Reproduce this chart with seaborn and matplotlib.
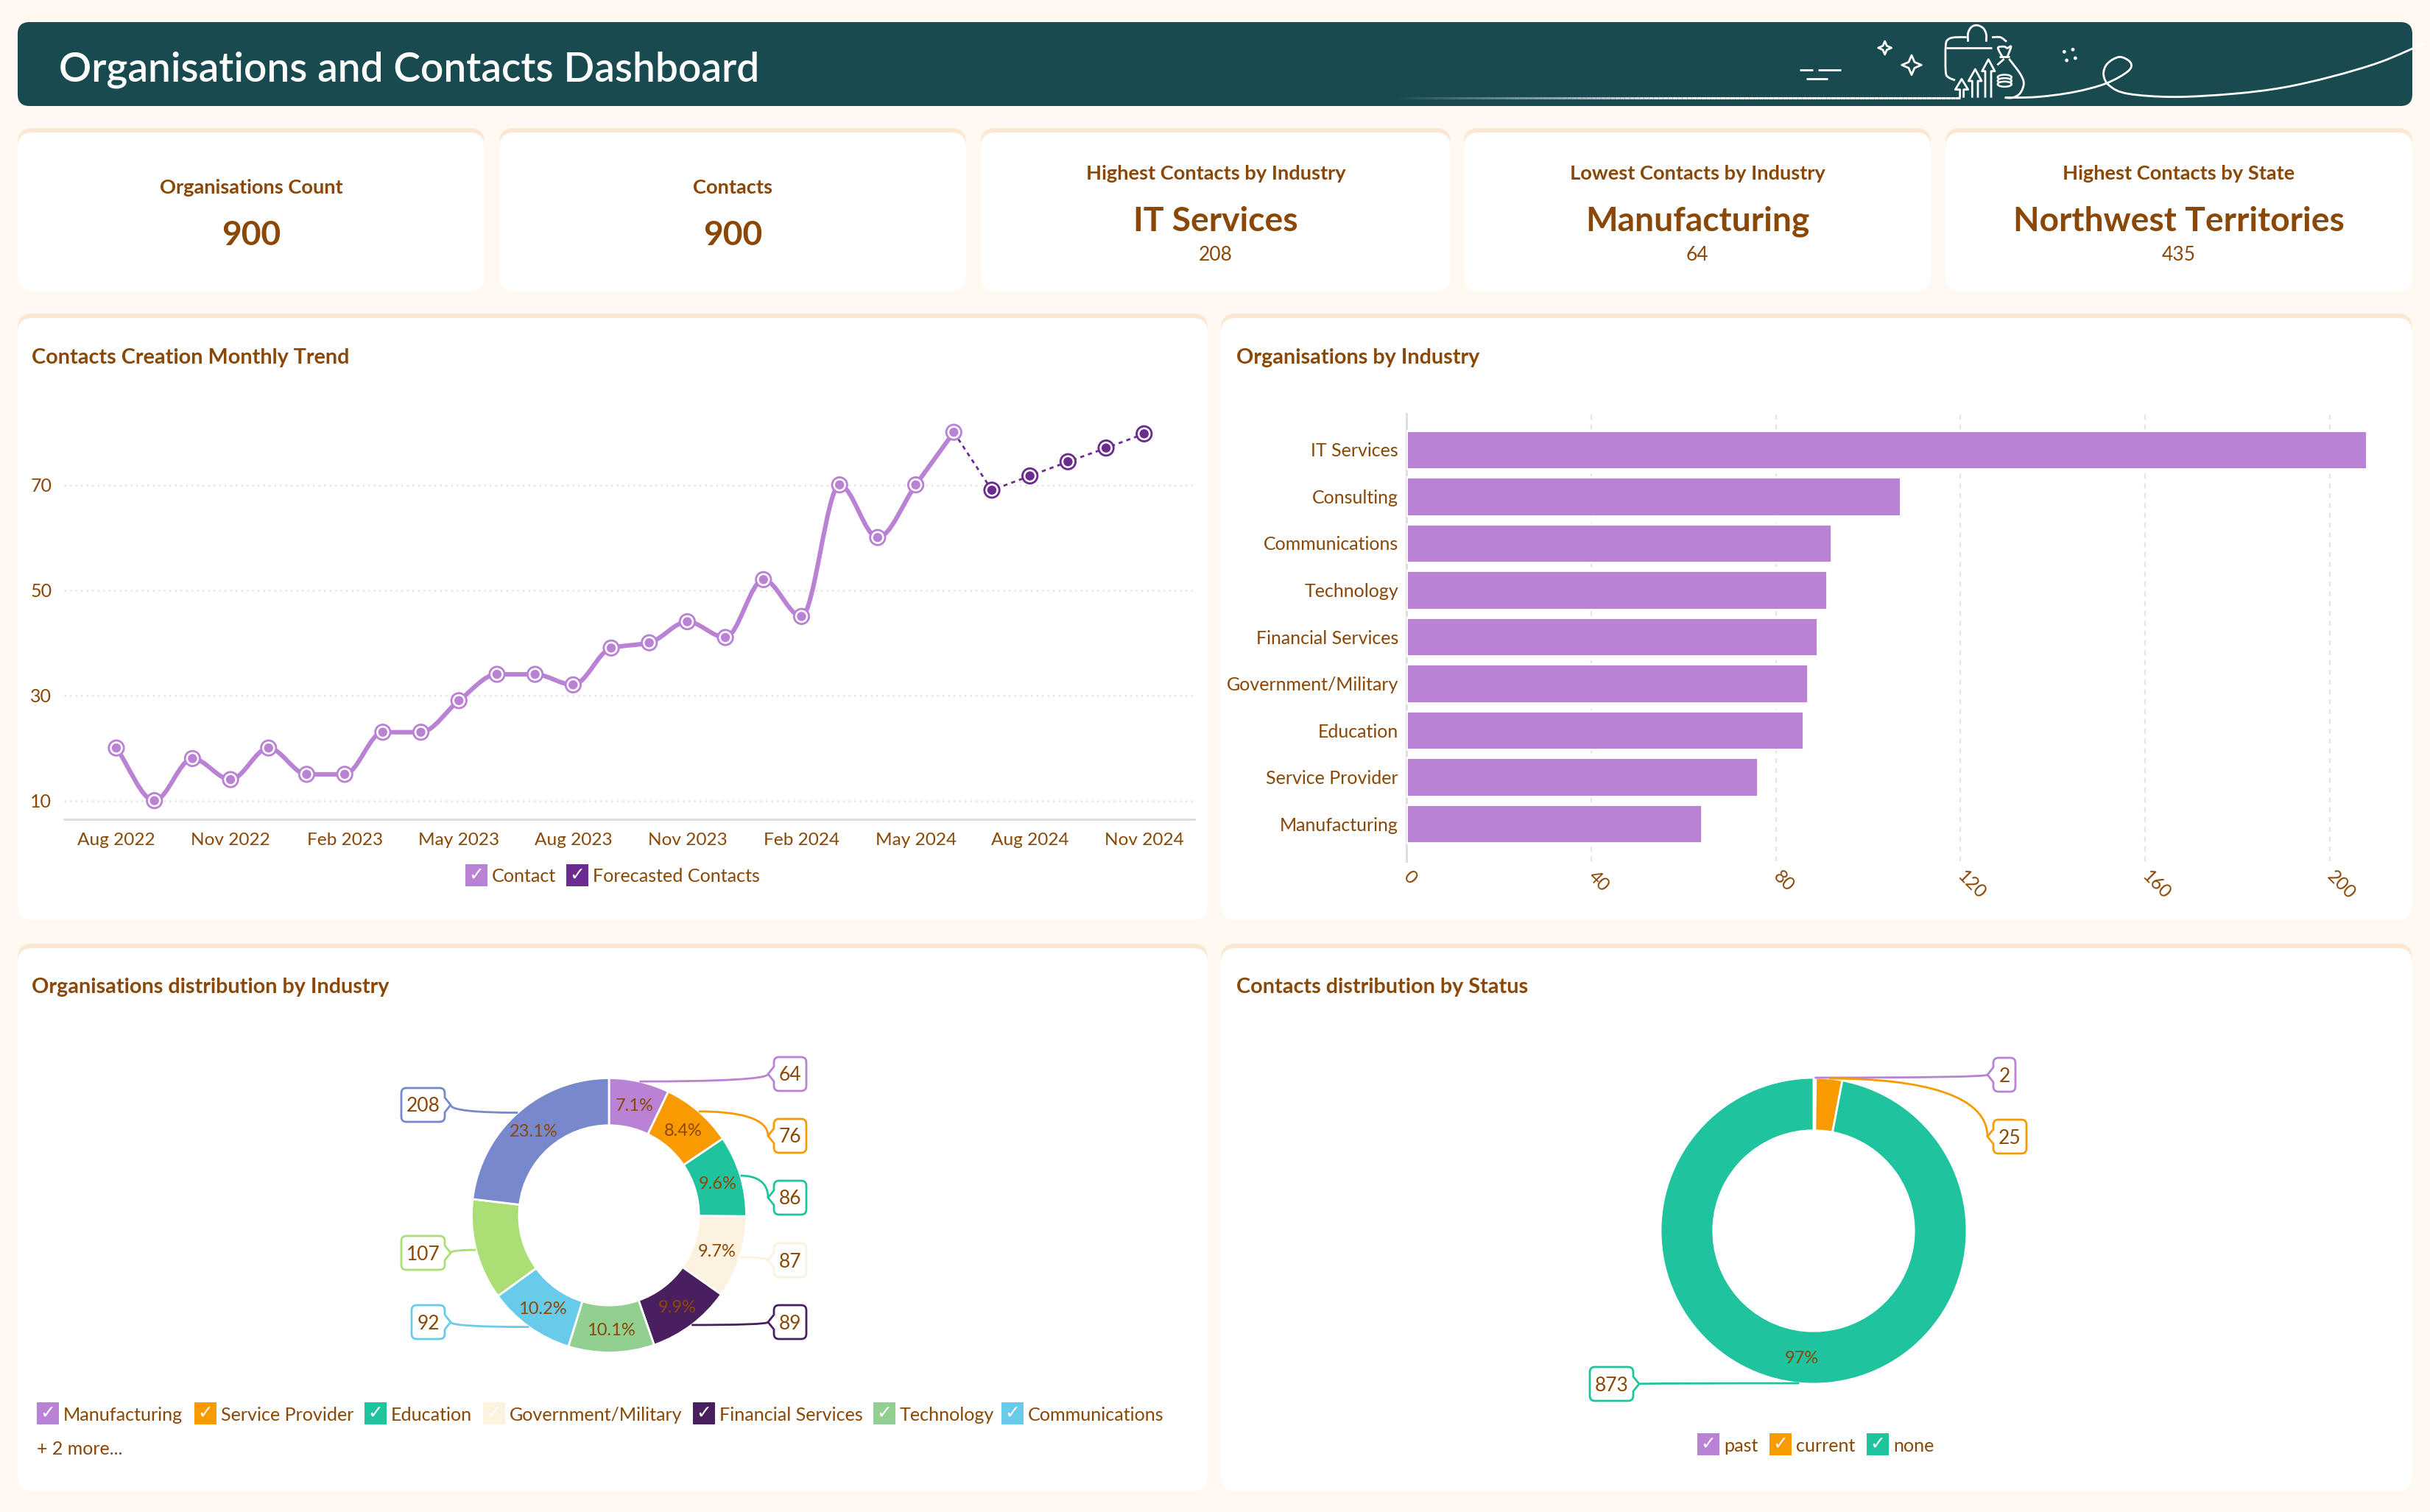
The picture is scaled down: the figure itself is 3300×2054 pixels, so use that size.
"""Organisations and Contacts dashboard, rebuilt with seaborn and matplotlib."""
import numpy as np
import pandas as pd
import matplotlib
matplotlib.use("Agg")
import matplotlib.pyplot as plt
import seaborn as sns
from matplotlib.collections import LineCollection
from matplotlib.patches import FancyBboxPatch, PathPatch, Polygon, Ellipse, Circle, Rectangle
from matplotlib.path import Path

# Data
months = ["Aug 2022", "Sep 2022", "Oct 2022", "Nov 2022", "Dec 2022", "Jan 2023", "Feb 2023",
          "Mar 2023", "Apr 2023", "May 2023", "Jun 2023", "Jul 2023", "Aug 2023", "Sep 2023",
          "Oct 2023", "Nov 2023", "Dec 2023", "Jan 2024", "Feb 2024", "Mar 2024", "Apr 2024",
          "May 2024", "Jun 2024", "Jul 2024", "Aug 2024", "Sep 2024", "Oct 2024", "Nov 2024"]
contacts = [20, 10, 18, 14, 20, 15, 15, 23, 23, 29, 34, 34, 32, 39, 40, 44, 41, 52, 45, 70, 60, 70, 80]
forecast = [69, 71.7, 74.4, 77, 79.7]
trend_ticks = [10, 30, 50, 70]

bar_labels = ["IT Services", "Consulting", "Communications", "Technology", "Financial Services",
              "Government/Military", "Education", "Service Provider", "Manufacturing"]
bar_values = [208, 107, 92, 91, 89, 87, 86, 76, 64]
bar_ticks = [0, 40, 80, 120, 160, 200]

donut_labels = ["Manufacturing", "Service Provider", "Education", "Government/Military",
                "Financial Services", "Technology", "Communications", "Consulting", "IT Services"]
donut_values = [64, 76, 86, 87, 89, 91, 92, 107, 208]
donut_pct = ["7.1%", "8.4%", "9.6%", "9.7%", "9.9%", "10.1%", "10.2%", "", "23.1%"]
status_labels = ["past", "current", "none"]
status_values = [2, 25, 873]
status_pct = ["", "", "97%"]

kpi_simple = [("Organisations Count", "900"), ("Contacts", "900")]
kpi_detail = [("Highest Contacts by Industry", "IT Services", "208"),
              ("Lowest Contacts by Industry", "Manufacturing", "64"),
              ("Highest Contacts by State", "Northwest Territories", "435")]

# Colours
PAGE = "#FFF9F2"
HEADER = "#184A50"
ACCENT = "#FBE7D2"
BROWN = "#8A4706"
PURPLE = "#BA82D4"
DARK_PURPLE = "#6A2C91"
GRID = "#E5E5E9"
DONUT_COLORS = ["#BA82D4", "#F99B00", "#1FC39E", "#FDF1DF", "#4A1F5F",
                "#92D092", "#68CBEA", "#ABDF75", "#7888CC"]
STATUS_COLORS = ["#BA82D4", "#F99B00", "#1FC39E"]

# Layout, all in figure pixels
WIDTH, HEIGHT, DPI = 3300, 2054, 200
KPI_X = [(24, 658), (678, 1312), (1332, 1970), (1988, 2622), (2642, 3276)]
PANELS = [(24, 426, 1640, 1250), (1658, 426, 3276, 1250),
          (24, 1282, 1640, 2026), (1658, 1282, 3276, 2026)]
DONUT_SPOTS = [(1051, 1095, 1459), (1051, 1095, 1543), (1051, 1095, 1627), (1051, 1095, 1712),
               (1051, 1095, 1796), None, (559, 604, 1796), (545, 604, 1702), (545, 604, 1501)]
STATUS_SPOTS = [(2707, 2737, 1460), (2707, 2752, 1544), (2159, 2218, 1880)]

sns.set_theme(style="white")
plt.rcParams["font.family"] = ["Lato", "DejaVu Sans"]
plt.rcParams["axes.unicode_minus"] = False

fig = plt.figure(figsize=(WIDTH / DPI, HEIGHT / DPI), dpi=DPI, facecolor=PAGE)


def px_axes(x0, y0, x1, y1, zorder=1):
    """Axes placed by pixel box, y counted from the top of the figure."""
    ax = fig.add_axes([x0 / WIDTH, 1 - y1 / HEIGHT, (x1 - x0) / WIDTH, (y1 - y0) / HEIGHT], zorder=zorder)
    ax.patch.set_alpha(0)
    return ax


def overlay(zorder):
    ax = px_axes(0, 0, WIDTH, HEIGHT, zorder)
    ax.set_xlim(0, WIDTH)
    ax.set_ylim(HEIGHT, 0)
    ax.axis("off")
    return ax


back = overlay(0)
top = overlay(10)


def card(x0, y0, x1, y1, radius=20):
    for off, color in [(0, ACCENT), (6, "white")]:
        back.add_patch(FancyBboxPatch((x0, y0 + off), x1 - x0, y1 - y0 - off, ec="none", fc=color,
                                      boxstyle=f"round,pad=0,rounding_size={radius}"))


def spline_2d(points):
    """Catmull-Rom through the given points, as a bezier path."""
    pts = np.asarray(points, dtype=float)
    verts, codes = [pts[0]], [Path.MOVETO]
    for i in range(len(pts) - 1):
        p0 = pts[max(i - 1, 0)]
        p3 = pts[min(i + 2, len(pts) - 1)]
        verts += [pts[i] + (pts[i + 1] - p0) / 6, pts[i + 1] - (p3 - pts[i]) / 6, pts[i + 1]]
        codes += [Path.CURVE4] * 3
    return Path(verts, codes)


def monotone_path(x, y):
    """Monotone bezier through the data points, the way the dashboard smooths its line."""
    x, y = np.asarray(x, dtype=float), np.asarray(y, dtype=float)
    slope = np.diff(y) / np.diff(x)
    tangent = np.zeros_like(y)
    for i in range(1, len(y) - 1):
        if slope[i - 1] * slope[i] > 0:
            tangent[i] = 2 * slope[i - 1] * slope[i] / (slope[i - 1] + slope[i])
    tangent[0], tangent[-1] = slope[0], slope[-1]
    verts, codes = [(x[0], y[0])], [Path.MOVETO]
    for i in range(len(y) - 1):
        dx = (x[i + 1] - x[i]) / 3
        verts += [(x[i] + dx, y[i] + tangent[i] * dx), (x[i + 1] - dx, y[i + 1] - tangent[i + 1] * dx),
                  (x[i + 1], y[i + 1])]
        codes += [Path.CURVE4] * 3
    return Path(verts, codes)


def draw_header():
    back.add_patch(FancyBboxPatch((24, 30), 3252, 114, ec="none", fc=HEADER,
                                  boxstyle="round,pad=0,rounding_size=16"))
    back.text(80, 95, "Organisations and Contacts Dashboard", color="white", fontsize=19.8,
              fontweight="semibold", va="center", ha="left")

    def art(points, closed=False, lw=1.0):
        pts = np.asarray(points, dtype=float) / 3 + (2400, 20)
        back.add_patch(Polygon(pts, closed=closed, fc="none", ec="white", lw=lw, joinstyle="round"))

    # fading base line
    xs = np.linspace(1887, 2662, 120)
    segs = [[(a, 133), (b, 133)] for a, b in zip(xs[:-1], xs[1:])]
    alphas = np.clip((xs[:-1] - 1887) / 420, 0, 1)
    back.add_collection(LineCollection(segs, colors=[(1, 1, 1, a) for a in alphas], linewidths=1.1))

    art([(785, 338), (785, 305), (766, 305), (792, 262), (818, 305), (800, 305), (800, 338)])
    art([(835, 338), (835, 270), (820, 270), (847, 222), (873, 270), (858, 270), (858, 338)])
    art([(888, 338), (888, 230), (875, 230), (901, 182), (927, 230), (912, 230), (912, 338)])
    for a, b in [((132, 226), (185, 226)), ((208, 226), (300, 226)), ((160, 260), (245, 260)),
                 ((730, 135), (915, 135)), ((945, 172), (988, 172))]:
        art([a, b])
    for cx, cy, r in [(479, 135, 27), (588, 205, 40)]:
        art([(cx, cy - r), (cx + r * .3, cy - r * .3), (cx + r, cy), (cx + r * .3, cy + r * .3),
             (cx, cy + r), (cx - r * .3, cy + r * .3), (cx - r, cy), (cx - r * .3, cy - r * .3)], closed=True)
    for cx, cy in [(1210, 151), (1245, 142), (1255, 177), (1220, 186)]:
        back.add_patch(Circle((2400 + cx / 3, 20 + cy / 3), 2.4, fc="white", ec="none"))

    to_px = lambda pts: [(2400 + a / 3, 20 + b / 3) for a, b in pts]
    curves = [
        [(765, 267), (738, 255), (727, 232), (727, 125), (738, 100), (765, 92), (812, 92)],
        [(818, 110), (818, 75), (832, 50), (855, 43), (880, 55), (892, 80), (892, 110)],
        [(915, 92), (950, 92), (975, 110)],
        [(937, 205), (965, 180)],
        [(985, 180), (1030, 240), (1045, 280), (1030, 320), (1000, 338), (968, 338)],
        [(958, 172), (940, 135), (965, 130), (978, 136), (993, 130), (978, 172)],
        [(968, 338), (1100, 335), (1250, 315), (1380, 280), (1470, 230), (1480, 195), (1435, 172),
         (1385, 200), (1370, 245), (1395, 290), (1470, 322), (1660, 335), (1900, 322), (2100, 297),
         (2300, 252), (2500, 192), (2680, 115)],
    ]
    for curve in curves:
        back.add_patch(PathPatch(spline_2d(to_px(curve)), fc="none", ec="white", lw=1.0))
    for dy in [0, 14, 28]:
        back.add_patch(Ellipse((2400 + 967 / 3, 20 + (255 + dy) / 3), 19, 7, fc=HEADER, ec="white", lw=0.9))


def draw_kpis():
    for (x0, x1) in KPI_X:
        card(x0, 174, x1, 396)
    for (x0, x1), (label, value) in zip(KPI_X[:2], kpi_simple):
        mid = (x0 + x1) / 2
        back.text(mid, 255, label, color=BROWN, fontsize=9.8, fontweight="bold", ha="center", va="center")
        back.text(mid, 320, value, color=BROWN, fontsize=16.6, fontweight="bold", ha="center", va="center")
    for (x0, x1), (label, value, sub) in zip(KPI_X[2:], kpi_detail):
        mid = (x0 + x1) / 2
        back.text(mid, 236, label, color=BROWN, fontsize=9.8, fontweight="bold", ha="center", va="center")
        back.text(mid, 301, value, color=BROWN, fontsize=16.6, fontweight="bold", ha="center", va="center")
        back.text(mid, 347, sub, color=BROWN, fontsize=9.5, ha="center", va="center")


def legend_item(x, y, color, label, size=30):
    back.add_patch(Rectangle((x, y), size, size, fc=color, ec="none"))
    back.text(x + size / 2, y + size / 2, "\u2713", color="white", fontsize=9, ha="center", va="center",
              family="DejaVu Sans")
    back.text(x + size + 6, y + size / 2 + 2, label, color=BROWN, fontsize=9.05, ha="left", va="center")


def draw_trend():
    ax = px_axes(87, 540, 1622, 1113)
    hist = pd.DataFrame({"idx": np.arange(len(contacts)), "value": contacts})
    fut = pd.DataFrame({"idx": np.arange(len(contacts), len(months)), "value": forecast})
    link = pd.concat([hist.tail(1), fut])

    sns.lineplot(data=link, x="idx", y="value", ax=ax, color=DARK_PURPLE, lw=1.0,
                 linestyle=(0, (2, 2)), errorbar=None, sort=False)
    ax.add_patch(PathPatch(monotone_path(hist["idx"], hist["value"]), fc="none", ec=PURPLE, lw=2.2,
                           capstyle="round", joinstyle="round", zorder=3))
    for frame, color in [(hist, PURPLE), (fut, DARK_PURPLE)]:
        for size, fill in [(70, color), (40, "white"), (20, color)]:
            sns.scatterplot(data=frame, x="idx", y="value", ax=ax, s=size, color=fill, edgecolor="none",
                            linewidth=0, zorder=4, clip_on=False)

    ax.set_xlim(-1.373, 28.32)
    ax.set_ylim(6.45, 86.6)
    ax.set_xticks(np.arange(0, len(months), 3), months[::3])
    ax.set_yticks(trend_ticks)
    ax.set_xlabel("")
    ax.set_ylabel("")
    ax.grid(axis="y", color=GRID, lw=0.9, linestyle=(0, (1, 2)))
    ax.set_axisbelow(True)
    sns.despine(ax=ax, left=True)
    ax.spines["bottom"].set_color("#DCDDE3")
    ax.spines["bottom"].set_linewidth(1.0)
    ax.tick_params(axis="x", length=0, pad=6.5, labelsize=8.8, labelcolor=BROWN)
    ax.tick_params(axis="y", length=0, pad=6, labelsize=9, labelcolor=BROWN)


def draw_bars():
    ax = px_axes(1910, 562, 3261, 1170)
    frame = pd.DataFrame({"industry": bar_labels, "organisations": bar_values})
    sns.barplot(data=frame, x="organisations", y="industry", ax=ax, color=PURPLE, saturation=1,
                width=0.827, orient="h", zorder=3)
    ax.set_xlim(0, (3261 - 1910) / 6.27)
    ax.set_ylim(8.8, -0.77)
    ax.set_xticks(bar_ticks)
    ax.set_xlabel("")
    ax.set_ylabel("")
    ax.grid(axis="x", color=GRID, lw=0.8, linestyle=(0, (3, 3)))
    ax.set_axisbelow(True)
    sns.despine(ax=ax, bottom=True)
    ax.spines["left"].set_color("#DCDDE3")
    ax.spines["left"].set_linewidth(1.0)
    ax.tick_params(axis="y", length=0, pad=4, labelsize=9, labelcolor=BROWN)
    ax.tick_params(axis="x", length=0, pad=6, labelsize=9, labelcolor=BROWN)
    for tick in ax.get_xticklabels():
        tick.set_rotation(-45)
        tick.set_rotation_mode("anchor")
        tick.set_ha("left")
        tick.set_va("center")


def callout(x0, x1, ymid, text, color, anchor, half_h=23):
    y0, y1 = ymid - half_h, ymid + half_h
    tip_right = anchor[0] > x1
    tip_x = x1 + 8 if tip_right else x0 - 8
    r, tw = 7, 10
    verts = [(x0 + r, y0), (x1 - r, y0), (x1, y0), (x1, y0 + r)]
    codes = [Path.MOVETO, Path.LINETO, Path.CURVE3, Path.CURVE3]
    if tip_right:
        verts += [(x1, ymid - tw), (tip_x, ymid), (x1, ymid + tw)]
        codes += [Path.LINETO] * 3
    verts += [(x1, y1 - r), (x1, y1), (x1 - r, y1), (x0 + r, y1), (x0, y1), (x0, y1 - r)]
    codes += [Path.LINETO, Path.CURVE3, Path.CURVE3, Path.LINETO, Path.CURVE3, Path.CURVE3]
    if not tip_right:
        verts += [(x0, ymid + tw), (tip_x, ymid), (x0, ymid - tw)]
        codes += [Path.LINETO] * 3
    verts += [(x0, y0 + r), (x0, y0), (x0 + r, y0), (x0 + r, y0)]
    codes += [Path.LINETO, Path.CURVE3, Path.CURVE3, Path.CLOSEPOLY]
    top.add_patch(PathPatch(Path(verts, codes), fc="white", ec=color, lw=1.0))

    sx, sy = anchor
    dx, dy = tip_x - sx, ymid - sy
    lead = Path([(sx, sy), (sx + 0.6 * dx, sy), (tip_x, sy + 0.3 * dy), (tip_x, ymid)],
                [Path.MOVETO, Path.CURVE4, Path.CURVE4, Path.CURVE4])
    top.add_patch(PathPatch(lead, fc="none", ec=color, lw=1.0))
    top.text((x0 + x1) / 2, ymid + 2, text, color=BROWN, fontsize=9.5, ha="center", va="center")


def draw_donut(values, pct, colors, spots, cx, cy, radius, inner):
    ax = px_axes(cx - radius, cy - radius, cx + radius, cy + radius)
    ax.pie(values, colors=colors, startangle=90, counterclock=False, radius=1,
           wedgeprops=dict(width=1 - inner, edgecolor="white", linewidth=1.0))
    ax.set_xlim(-1, 1)
    ax.set_ylim(-1, 1)
    for patch in ax.patches:
        patch.set_clip_on(False)
    total = sum(values)
    start = 0
    for value, label, color, spot in zip(values, pct, colors, spots):
        mid = np.deg2rad((start + value / 2) / total * 360)
        start += value
        if label:
            r_mid = radius * (1 + inner) / 2
            top.text(cx + r_mid * np.sin(mid), cy - r_mid * np.cos(mid) + 2, label, color=BROWN, fontsize=8.5,
                     ha="center", va="center")
        if spot:
            anchor = (cx + radius * np.sin(mid), cy - radius * np.cos(mid))
            callout(spot[0], spot[1], spot[2], str(value), color, anchor)


draw_header()
draw_kpis()
for panel in PANELS:
    card(*panel)
for x, y, title in [(43, 486, "Contacts Creation Monthly Trend"), (1679, 486, "Organisations by Industry"),
                    (43, 1341, "Organisations distribution by Industry"),
                    (1679, 1341, "Contacts distribution by Status")]:
    back.text(x, y, title, color=BROWN, fontsize=10.35, fontweight="bold", ha="left", va="center")

draw_trend()
draw_bars()
draw_donut(donut_values, donut_pct, DONUT_COLORS, DONUT_SPOTS, 827, 1651, 186.5, 0.655)
draw_donut(status_values, status_pct, STATUS_COLORS, STATUS_SPOTS, 2463, 1672, 208, 0.655)

legend_item(632, 1174, PURPLE, "Contact")
legend_item(769, 1174, DARK_PURPLE, "Forecasted Contacts")
for x, label, color in zip([50, 264, 495, 656, 941, 1186, 1360], donut_labels, DONUT_COLORS):
    legend_item(x, 1905, color, label)
back.text(50, 1968, "+ 2 more...", color=BROWN, fontsize=9, ha="left", va="center")
for x, label, color in zip([2305, 2403, 2535], status_labels, STATUS_COLORS):
    legend_item(x, 1947, color, label)

fig.savefig("out.png", dpi=DPI, facecolor=PAGE)
plt.close(fig)
